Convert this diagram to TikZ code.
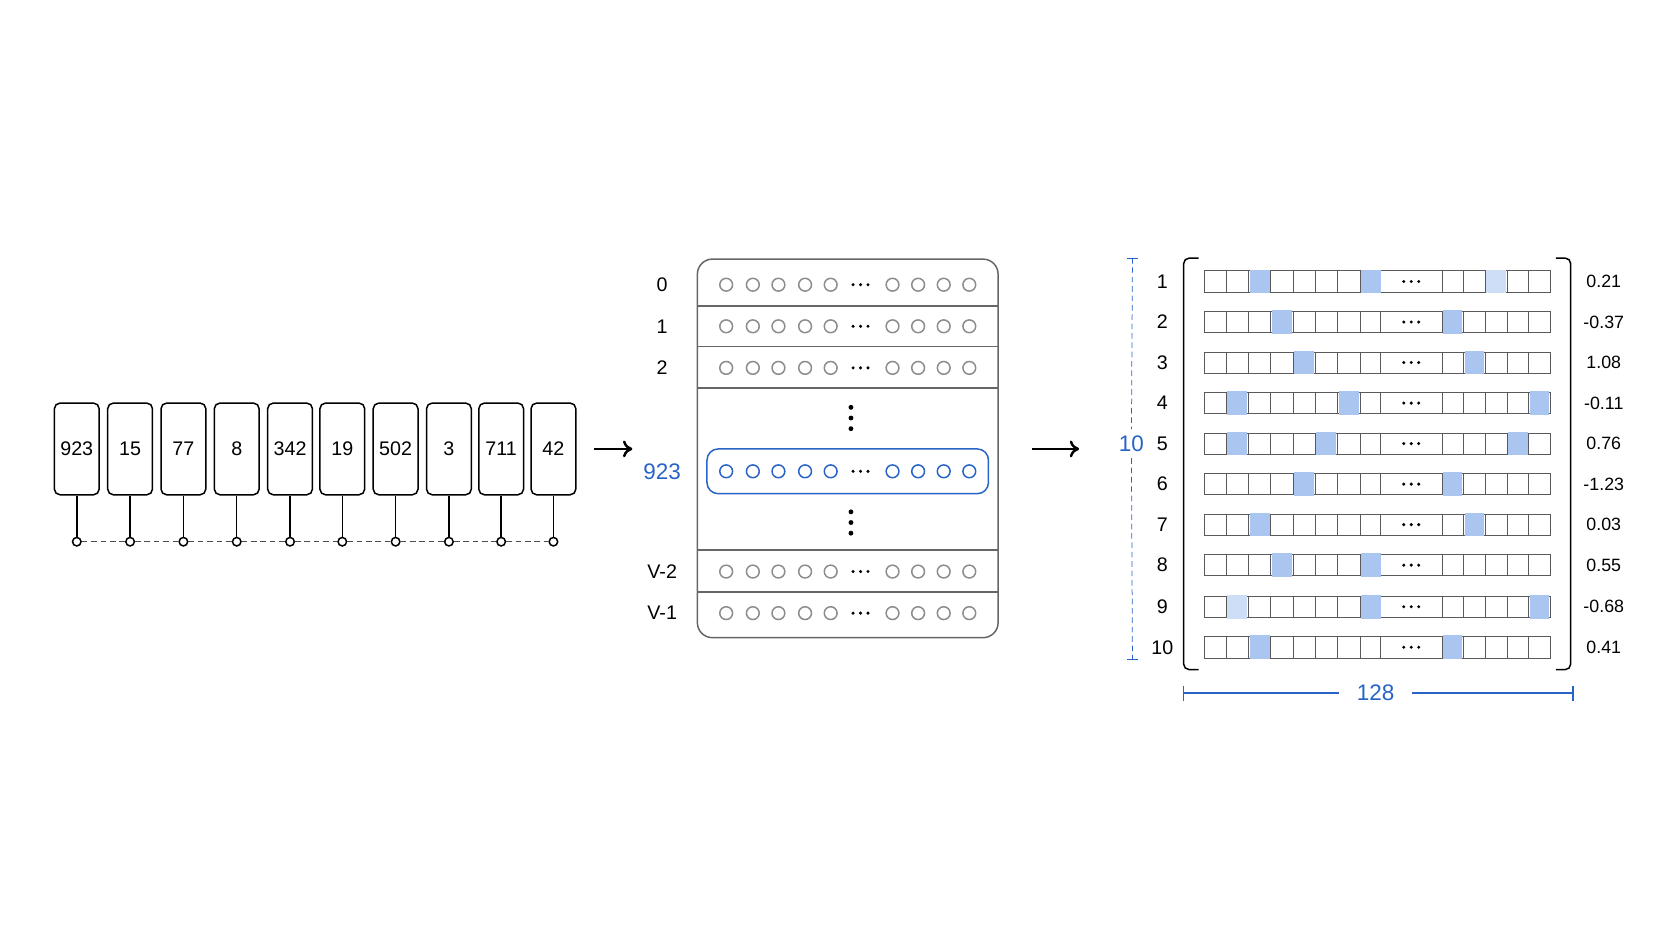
\documentclass[tikz,border=0pt]{standalone}
\usepackage{fontspec}
\setmainfont{Liberation Sans}
\usetikzlibrary{positioning,arrows.meta}
\definecolor{hiblue}{RGB}{40,100,200}
\definecolor{cellblue}{RGB}{170,198,240}
\definecolor{cellpale}{RGB}{205,222,246}
\tikzset{
  tok/.style={draw,thick,rounded corners=3pt,minimum width=42*0.02cm,minimum height=86*0.02cm,inner sep=0pt,font=\fontsize{10.5}{12}\selectfont},
  pin/.style={draw,thick,circle,fill=white,inner sep=0pt,minimum size=8*0.02cm},
  dot/.style={draw=gray!90,circle,thick,inner sep=0pt,minimum size=12*0.02cm},
  bdot/.style={draw=hiblue,circle,thick,inner sep=0pt,minimum size=12*0.02cm},
  cell/.style={draw=gray!70!black,fill=white,minimum width=20.9*0.02cm,minimum height=20*0.02cm,inner sep=0pt,outer sep=0pt},
  lbl/.style={font=\fontsize{10.5}{12}\selectfont},
  small/.style={font=\fontsize{9.5}{11}\selectfont},
  bigarrow/.style={-{To[length=5pt,width=9pt]},line width=1.3pt}
}
\newcommand{\hdots}[2]{\foreach \k in {-1,0,1} \fill (#1+\k*7,#2) circle (0.9pt);}
\newcommand{\vdts}[2]{\foreach \k in {-1,0,1} \fill (#1,#2+\k*10) circle (1.3pt);}
\begin{document}
\begin{tikzpicture}[x=0.02cm,y=-0.02cm]
\useasboundingbox (0,0) rectangle (1568,882);
%-------------- tokens --------------------
\foreach \x/\t [count=\i] in {72/923,122/15,172/77,222/8,272/342,321/19,371/502,421/3,470/711,519/42}{
  \node[tok] (T\i) at (\x,421) {\t};
  \node[pin] (P\i) at (\x,508) {};
  \draw[thick] (T\i.south) -- (P\i);
}
\foreach \i [evaluate=\i as \j using int(\i+1)] in {1,...,9}
  \draw[densely dashed,gray!60!black] (P\i) -- (P\j);

\coordinate (A1s) at (557,421);
\coordinate (A1e) at (593,421);
\draw[bigarrow] (A1s) -- (A1e);

%-------------- embedding table --------------------
\draw[gray!80!black,thick,rounded corners=8pt] (654,243) rectangle (936,598);
\foreach \y in {287,325,364,516,555}
  \draw[gray!80!black,thick] (654,\y) -- (936,\y);
\foreach \y/\t in {267/0,306/1,345/2,536/V-2,575/V-1}{
  \node[lbl] (L\y) at (621,\y) {\t};
  \foreach \x in {681,706,730,755,779,837,861,885,909}
    \node[dot] at (\x,\y) {};
  \hdots{807}{\y}
}
\vdts{798}{392}
\vdts{798}{490}
\draw[hiblue,thick,rounded corners=6pt] (663,421) rectangle (927,463);
\node[lbl,text=hiblue,font=\fontsize{12}{14}\selectfont] (L923) at (621,442) {923};
\foreach \x in {681,706,730,755,779,837,861,885,909}
  \node[bdot] at (\x,442) {};
\hdots{807}{442}

\coordinate (A2s) at (968,421);
\coordinate (A2e) at (1012,421);
\draw[bigarrow] (A2s) -- (A2e);

%-------------- embedding matrix --------------------
\foreach \y/\v/\hl [count=\r] in {264/0.21/{2,7,10},302/-0.37/{3,8},340/1.08/{4,9},378/-0.11/{1,6,12},416/0.76/{1,5,11},454/-1.23/{4,8},492/0.03/{2,9},530/0.55/{3,7},569/-0.68/{1,7,12},607/0.41/{2,8}}{
  \node[lbl] (R\r) at (1090,\y) {\r};
  \node[small] (V\r) at (1504,\y) {\v};
  \foreach \c in {0,...,7}
    \node[cell] (C\r-\c) at (1139.45+\c*20.9,\y) {};
  \foreach \c in {8,...,12}
    \node[cell,minimum width=20.4*0.02cm] (C\r-\c) at (1362.2+\c*20.4-163.2,\y) {};
  \node[cell,minimum width=57.5*0.02cm] (D\r) at (1323.45,\y) {};
  \hdots{1323.45}{\y}
  \foreach \c in \hl
    \fill[cellblue] ([shift={(0.6pt,-0.6pt)}]C\r-\c.south west) rectangle ([shift={(-0.6pt,0.6pt)}]C\r-\c.north east);
}
\fill[white] ([shift={(0.6pt,-0.6pt)}]C1-10.south west) rectangle ([shift={(-0.6pt,0.6pt)}]C1-10.north east);
\fill[cellpale] ([shift={(0.6pt,-0.6pt)}]C1-10.south west) rectangle ([shift={(-0.6pt,0.6pt)}]C1-10.north east);
\fill[white] ([shift={(0.6pt,-0.6pt)}]C9-1.south west) rectangle ([shift={(-0.6pt,0.6pt)}]C9-1.north east);
\fill[cellpale] ([shift={(0.6pt,-0.6pt)}]C9-1.south west) rectangle ([shift={(-0.6pt,0.6pt)}]C9-1.north east);

% brackets
\draw[thick,rounded corners=3pt] (1124,242) -- (1110,242) -- (1110,628) -- (1124,628);
\draw[thick,rounded corners=3pt] (1459,242) -- (1473,242) -- (1473,628) -- (1459,628);

% dimensions
\node[lbl,text=hiblue,font=\fontsize{12}{14}\selectfont] (N10) at (1061,416) {10};
\coordinate (D10t) at (1062,242);
\coordinate (D10b) at (1062,618);
\draw[hiblue,densely dashed,thin] (D10t) -- (N10);
\draw[hiblue,densely dashed,thin] (N10) -- (D10b);
\draw[hiblue,thin] (1057,242) -- (1067,242) (1057,618) -- (1067,618);
\node[lbl,text=hiblue,font=\fontsize{12}{14}\selectfont] (N128) at (1290,650) {128};
\coordinate (D128l) at (1110,650);
\coordinate (D128r) at (1475,650);
\draw[hiblue,thick] (D128l) -- ([xshift=-6pt]N128.west);
\draw[hiblue,thick] ([xshift=6pt]N128.east) -- (D128r);
\draw[hiblue,thick] (1110,643) -- (1110,657) (1475,643) -- (1475,657);
\end{tikzpicture}
\end{document}
